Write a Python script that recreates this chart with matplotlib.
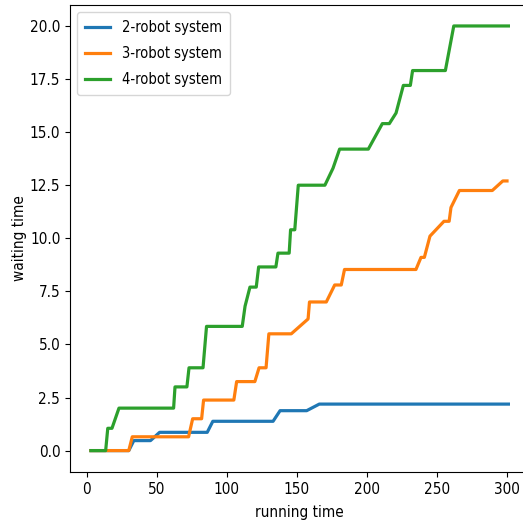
import matplotlib
matplotlib.use("Agg")
import matplotlib.pyplot as plt

plt.rcParams["font.family"] = ["DejaVu Sans"]
plt.rcParams["font.stretch"] = "condensed"

# waiting time vs running time
t2 = [3, 30, 33.6, 45.5, 52, 86, 90, 133, 138, 157, 166, 301]
w2 = [0, 0, 0.47, 0.47, 0.86, 0.86, 1.38, 1.38, 1.88, 1.88, 2.19, 2.19]

t3 = [3, 30, 32.5, 72.7, 75.6, 82, 83.4, 105, 107, 120, 123, 128, 130, 146,
      158, 159, 171, 177, 181.7, 184, 235, 238.6, 241, 245, 255, 258.7, 260,
      266, 289.5, 297, 300]
w3 = [0, 0, 0.65, 0.65, 1.5, 1.5, 2.38, 2.38, 3.25, 3.25, 3.9, 3.9, 5.5, 5.5,
      6.2, 7.0, 7.0, 7.8, 7.8, 8.53, 8.53, 9.1, 9.1, 10.1, 10.8, 10.8, 11.45,
      12.25, 12.25, 12.7, 12.7]

t4 = [3, 13.5, 15, 18, 23, 62, 63, 71.5, 73, 83, 85.5, 111, 113, 116.5, 121,
      122.7, 135, 136.5, 144.5, 145.5, 148.5, 151, 170, 175.8, 180.5, 201, 211,
      216, 220.8, 226, 231, 232.6, 256, 262, 301]
w4 = [0, 0, 1.05, 1.05, 2.0, 2.0, 3.0, 3.0, 3.9, 3.9, 5.85, 5.85, 6.8, 7.7,
      7.7, 8.65, 8.65, 9.3, 9.3, 10.4, 10.4, 12.5, 12.5, 13.3, 14.2, 14.2, 15.4,
      15.4, 15.9, 17.2, 17.2, 17.9, 17.9, 20.0, 20.0]

fig = plt.figure(figsize=(5.23, 5.26), dpi=100)
# the reference is cropped on the right, so the axes run past the edge
ax = fig.add_axes([0.134, 0.103, 0.878, 0.888])

ax.plot(t2, w2, lw=2.3, label="2-robot system")
ax.plot(t3, w3, lw=2.3, label="3-robot system")
ax.plot(t4, w4, lw=2.3, label="4-robot system")

ax.set_xticks([0, 50, 100, 150, 200, 250, 300])
ax.set_yticks([0, 2.5, 5, 7.5, 10, 12.5, 15, 17.5, 20])
ax.tick_params(labelsize=11)
ax.set_xlabel("running time", fontsize=11, labelpad=6)
ax.set_ylabel("waiting time", fontsize=11, labelpad=2)
ax.legend(loc="upper left", fontsize=10.5, handlelength=1.7,
          labelspacing=0.75, borderpad=0.55)

plt.savefig("out.png", dpi=100)
